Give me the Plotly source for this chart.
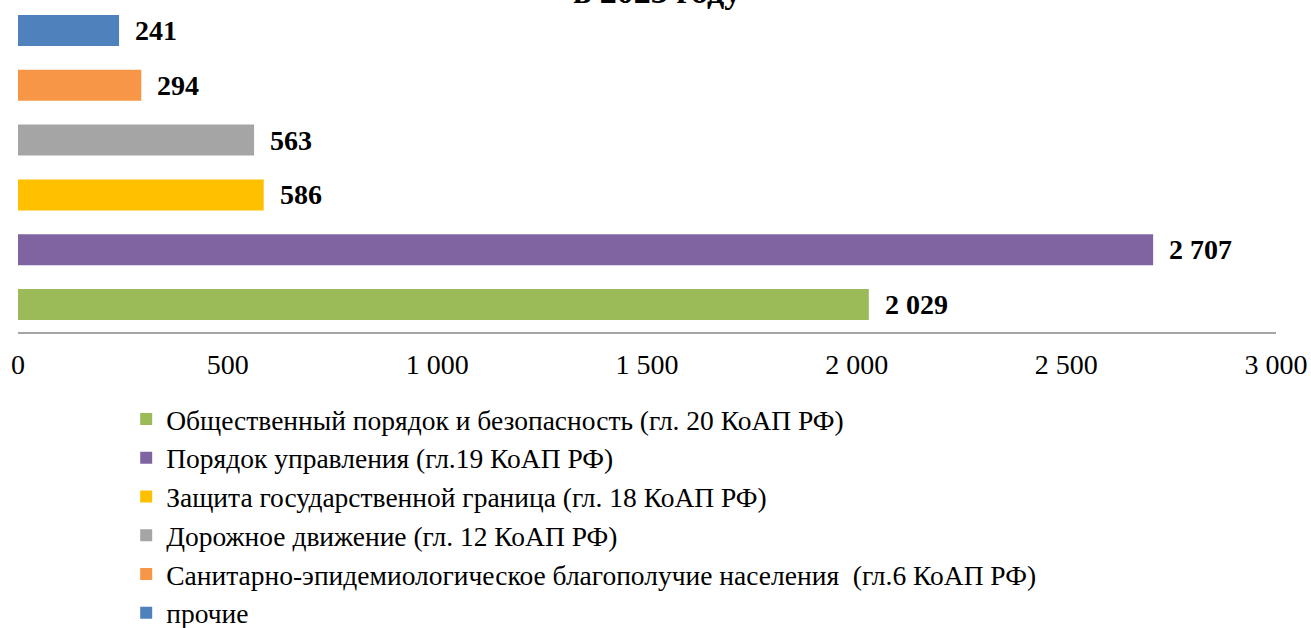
import plotly.graph_objects as go

categories = [
    "Общественный порядок и безопасность (гл. 20 КоАП РФ)",
    "Порядок управления (гл.19 КоАП РФ)",
    "Защита государственной граница (гл. 18 КоАП РФ)",
    "Дорожное движение (гл. 12 КоАП РФ)",
    "Санитарно-эпидемиологическое благополучие населения  (гл.6 КоАП РФ)",
    "прочие",
]
values = [2029, 2707, 586, 563, 294, 241]
labels = ["2 029", "2 707", "586", "563", "294", "241"]
colors = ["#9BBB59", "#8064A2", "#FFC000", "#A5A5A5", "#F79646", "#4F81BD"]
tick_vals = [0, 500, 1000, 1500, 2000, 2500, 3000]
tick_text = ["0", "500", "1 000", "1 500", "2 000", "2 500", "3 000"]
title_text = "в 2023 году"

FONT = "Liberation Serif"

fig = go.Figure()
for cat, val, col in zip(categories, values, colors):
    fig.add_trace(go.Bar(
        x=[val], y=[cat], orientation="h", name=cat,
        marker=dict(color=col, line=dict(width=0)),
        legendgroup=cat, showlegend=True,
    ))

for cat, val, lab in zip(categories, values, labels):
    fig.add_annotation(
        x=val, y=cat, xref="x", yref="y", text="<b>" + lab + "</b>",
        showarrow=False, xanchor="left", yanchor="middle", xshift=14,
        font=dict(family=FONT, size=28, color="#000000"),
    )

fig.add_annotation(
    x=0.5, y=1, xref="paper", yref="paper", text="<b>" + title_text + "</b>",
    showarrow=False, xanchor="center", yanchor="bottom", yshift=-9, xshift=10,
    font=dict(family=FONT, size=34, color="#000000"),
)

fig.update_layout(
    width=1311, height=628,
    margin=dict(l=18, r=35, t=3, b=296, autoexpand=False),
    paper_bgcolor="white", plot_bgcolor="white",
    barmode="overlay", bargap=0.436,
    font=dict(family=FONT, size=28, color="#000000"),
    showlegend=True,
    legend=dict(
        x=0.086, xanchor="left", y=-0.19, yanchor="top",
        traceorder="normal", tracegroupgap=7,
        font=dict(family=FONT, size=27.5, color="#000000"),
        bgcolor="rgba(0,0,0,0)",
    ),
    xaxis=dict(
        range=[0, 3000], tickvals=tick_vals, ticktext=tick_text,
        showgrid=False, zeroline=False, showline=True,
        linecolor="#A6A6A6", linewidth=2,
        ticks="outside", ticklen=6, tickcolor="rgba(0,0,0,0)",
        tickfont=dict(family=FONT, size=28, color="#000000"),
        automargin=False, fixedrange=True,
    ),
    yaxis=dict(
        categoryorder="array", categoryarray=categories,
        showticklabels=False, showgrid=False, zeroline=False, showline=False,
        ticks="", automargin=False, fixedrange=True,
    ),
)

fig.write_html("out.html", config={"displayModeBar": False},
               post_script="document.body.style.margin='0';")
